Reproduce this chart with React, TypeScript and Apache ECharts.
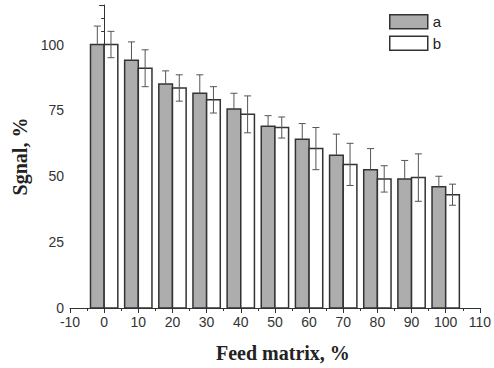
import React, { useEffect, useRef } from "react";
import * as echarts from "echarts";

const feed = [0, 10, 20, 30, 40, 50, 60, 70, 80, 90, 100];
const aMean = [100, 94, 85, 81.5, 75.5, 69, 64, 58, 52.5, 49, 46];
const aErr = [7, 7, 5, 7, 6, 4, 6, 8, 8, 7, 4];
const bMean = [100, 91, 83.5, 79, 73.5, 68.5, 60.5, 54.5, 49, 49.5, 43];
const bErr = [5, 7, 5, 5, 7, 4, 8, 8, 5, 9, 4];
const seriesNames = ["a", "b"];

const GRAY = "#adadad";
const EDGE = "#333";

function makeRender(side: number, fill: string, fullErr: boolean) {
  return (params: any, api: any) => {
    const x = api.value(0);
    const y = api.value(1);
    const e = api.value(2);
    const base = api.coord([x, 0]);
    const top = api.coord([x, y]);
    const w = api.size([4, 0])[0];
    const left = side < 0 ? base[0] - w : base[0];
    const cx = left + w / 2;
    const hi = api.coord([x, y + e]);
    const lo = api.coord([x, y - e]);
    const cap = 3.5;
    const errTopY = hi[1];
    const errBotY = fullErr ? lo[1] : top[1];
    return {
      type: "group",
      children: [
        {
          type: "rect",
          shape: { x: left, y: top[1], width: w, height: base[1] - top[1] },
          style: { fill, stroke: EDGE, lineWidth: 1.5 },
        },
        {
          type: "line",
          shape: { x1: cx, y1: errTopY, x2: cx, y2: errBotY },
          style: { stroke: "#555", lineWidth: 1 },
        },
        {
          type: "line",
          shape: { x1: cx - cap, y1: errTopY, x2: cx + cap, y2: errTopY },
          style: { stroke: "#555", lineWidth: 1 },
        },
        ...(fullErr
          ? [
              {
                type: "line",
                shape: { x1: cx - cap, y1: errBotY, x2: cx + cap, y2: errBotY },
                style: { stroke: "#555", lineWidth: 1 },
              },
            ]
          : []),
      ],
    };
  };
}

export default function App() {
  const ref = useRef<HTMLDivElement>(null);
  useEffect(() => {
    if (!ref.current) return;
    const chart = echarts.init(ref.current, undefined, { renderer: "svg" });
    const labelStyle = { color: "#333", fontSize: 14, fontFamily: "Liberation Sans" };
    chart.setOption({
      animation: false,
      backgroundColor: "#fff",
      grid: { left: 70, right: 13, top: 5, bottom: 59 },
      legend: {
        orient: "vertical",
        left: 384,
        top: 9,
        itemWidth: 38,
        itemHeight: 14,
        itemGap: 6,
        textStyle: { color: "#222", fontSize: 15, fontFamily: "Liberation Sans" },
        data: [
          { name: seriesNames[0], icon: "rect", itemStyle: { color: GRAY, borderColor: EDGE, borderWidth: 1.5 } },
          { name: seriesNames[1], icon: "rect", itemStyle: { color: "#fff", borderColor: EDGE, borderWidth: 1.5 } },
        ],
      },
      xAxis: {
        type: "value",
        min: -10,
        max: 110,
        interval: 10,
        name: "Feed matrix, %",
        nameLocation: "middle",
        nameGap: 35,
        nameTextStyle: {
          color: "#222",
          fontSize: 20,
          fontWeight: "bold",
          fontFamily: "Liberation Serif",
          padding: [0, 0, 0, 16],
        },
        axisLine: { show: true, lineStyle: { color: EDGE, width: 1 } },
        axisTick: { show: true, length: 5, lineStyle: { color: EDGE } },
        minorTick: { show: true, splitNumber: 2, length: 3, lineStyle: { color: EDGE } },
        axisLabel: { ...labelStyle, margin: 7 },
        splitLine: { show: false },
      },
      yAxis: {
        type: "value",
        min: 0,
        max: 115,
        interval: 25,
        name: "Sgnal, %",
        nameLocation: "middle",
        nameGap: 40,
        nameRotate: 90,
        nameTextStyle: {
          color: "#222",
          fontSize: 20,
          fontWeight: "bold",
          fontFamily: "Liberation Serif",
        },
        axisLine: { show: true, lineStyle: { color: EDGE, width: 1 } },
        axisTick: { show: true, length: 5, lineStyle: { color: EDGE } },
        minorTick: { show: true, splitNumber: 5, length: 3, lineStyle: { color: EDGE } },
        axisLabel: {
          ...labelStyle,
          margin: 6,
          showMaxLabel: false,
          formatter: (v: number) => String(v),
          rich: {},
        },
        splitLine: { show: false },
      },
      series: [
        {
          name: seriesNames[0],
          type: "custom",
          itemStyle: { color: GRAY, borderColor: EDGE },
          renderItem: makeRender(-1, GRAY, false),
          encode: { x: 0, y: 1 },
          data: feed.map((f, i) => [f, aMean[i], aErr[i]]),
        },
        {
          name: seriesNames[1],
          type: "custom",
          itemStyle: { color: "#fff", borderColor: EDGE },
          renderItem: makeRender(1, "#fff", true),
          encode: { x: 0, y: 1 },
          data: feed.map((f, i) => [f, bMean[i], bErr[i]]),
        },
      ],
    });
    return () => chart.dispose();
  }, []);
  return <div ref={ref} style={{ width: 494, height: 368, position: "absolute", left: 0, top: 0 }} />;
}
